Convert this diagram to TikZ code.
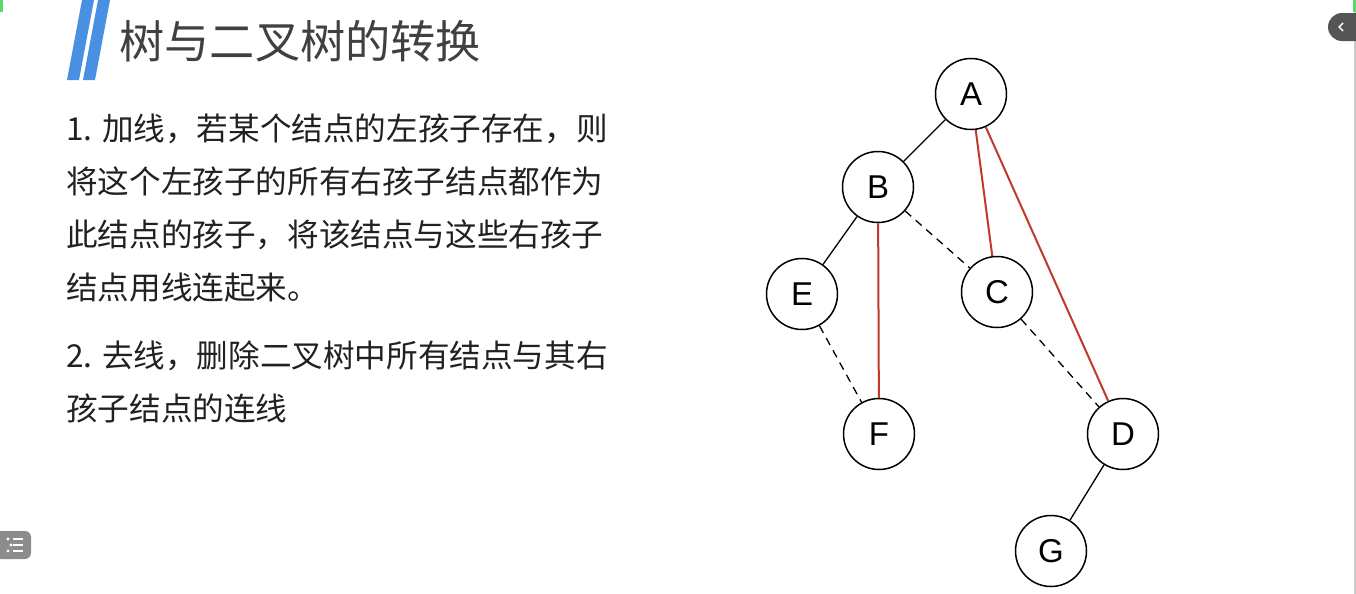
\documentclass[tikz,border=0pt]{standalone}
\usepackage{fontspec}
\setmainfont{Liberation Sans}
\newfontfamily\cjk{Noto Sans CJK SC}
\definecolor{slashblue}{HTML}{4A90E2}
\definecolor{linkred}{HTML}{C0392B}
\definecolor{tabgray}{HTML}{555555}
\definecolor{ribbon}{HTML}{5CD66B}
\begin{document}
\begin{tikzpicture}[x=0.5pt,y=-0.5pt,
  knot/.style={circle,draw,line width=0.75pt,minimum size=35.5pt,inner sep=0pt,font=\fontsize{16.5}{18}\selectfont},
  keep/.style={line width=0.65pt},
  added/.style={draw=linkred,line width=1pt},
  cut/.style={line width=0.65pt,dash pattern=on 4pt off 3pt},
  rule/.style={anchor=north west,inner sep=0pt,align=left,text=black!87,font=\cjk\fontsize{15.8}{26.5}\selectfont}]
  \useasboundingbox (0,0) rectangle (1356,594);
  % page furniture
  \fill[ribbon] (0,0) rectangle (3,12);
  \draw[black!20,line width=0.6pt] (1355,12) -- (1355,594);
  \fill[ribbon] (1353,0) rectangle (1356,12);
  \fill[tabgray] (1356,13) -- (1342,13) arc (270:90:14) -- (1356,41) -- cycle;
  \draw[white,line width=0.7pt] (1343,23) -- (1339,27) -- (1343,31);
  \fill[black!45,rounded corners=3pt] (-6,531) rectangle (31,559);
  \foreach \y/\d in {539/8,545/11,551/8} {
    \fill[white] (\d,\y) circle (0.8pt);
    \draw[white,line width=0.7pt] (13,\y) -- (23,\y);
  }
  \fill[slashblue] (82,0) -- (94,0) -- (79,80) -- (67,80) -- cycle;
  \fill[slashblue] (98,0) -- (110,0) -- (95,80) -- (83,80) -- cycle;
  \node[anchor=west,inner sep=0pt,text=black!75,font=\cjk\fontsize{22.6}{26}\selectfont] (title) at (119,41) {树与二叉树的转换};
  \node[rule] (rule1) at (66,113) {1. 加线，若某个结点的左孩子存在，则\\将这个左孩子的所有右孩子结点都作为\\此结点的孩子，将该结点与这些右孩子\\结点用线连起来。};
  \node[rule] (rule2) at (66,340) {2. 去线，删除二叉树中所有结点与其右\\孩子结点的连线};
  % tree
  \node[knot] (A) at (971,94) {A};
  \node[knot] (B) at (878,187) {B};
  \node[knot] (E) at (802,294) {E};
  \node[knot] (C) at (997,292) {C};
  \node[knot] (F) at (879,434) {F};
  \node[knot] (D) at (1123,434) {D};
  \node[knot] (G) at (1051,551) {G};
  \draw[keep] (A) -- (B);
  \draw[keep] (B) -- (E);
  \draw[keep] (D) -- (G);
  \draw[cut] (B) -- (C);
  \draw[cut] (E) -- (F);
  \draw[cut] (C) -- (D);
  \draw[added] (A) -- (C);
  \draw[added] (A) -- (D);
  \draw[added] (B) -- (F);
\end{tikzpicture}
\end{document}
